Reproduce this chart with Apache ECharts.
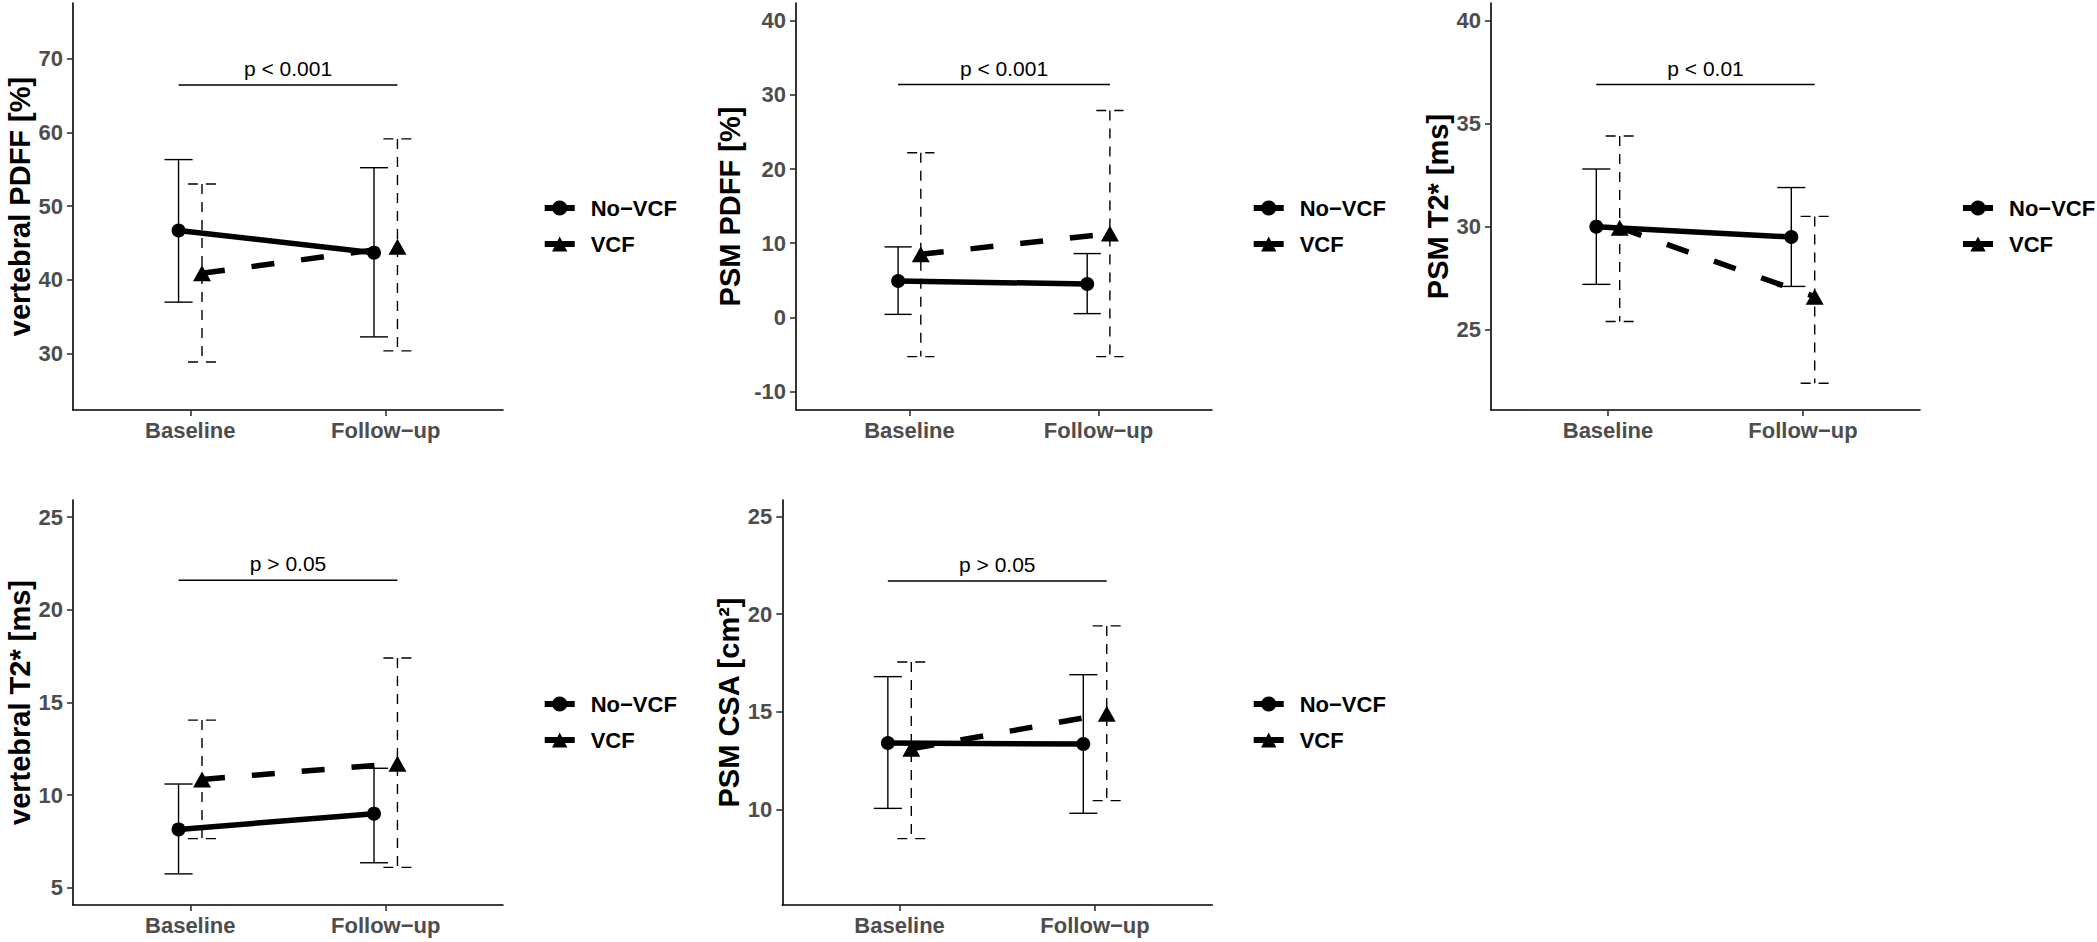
<!DOCTYPE html>
<html>
<head>
<meta charset="utf-8">
<script src="https://cdn.jsdelivr.net/npm/echarts@6/dist/echarts.min.js"></script>
<style>
html,body{margin:0;padding:0;background:#fff;}
#chart{width:2097px;height:942px;}
</style>
</head>
<body>
<div id="chart"></div>
<script>
// ---------------- data ----------------
const categories = ['Baseline', 'Follow\u2212up'];
const groupNames = ['No\u2212VCF', 'VCF'];
const yTitles = ['vertebral PDFF [%]', 'PSM PDFF [%]', 'PSM T2* [ms]', 'vertebral T2* [ms]', 'PSM CSA [cm\u00b2]'];
const pLabels = ['p < 0.001', 'p < 0.001', 'p < 0.01', 'p > 0.05', 'p > 0.05'];
const pLevels = [66.4, 31.4, 36.9, 21.6, 21.7];
const yTicks = [
  [30, 40, 50, 60, 70],
  [-10, 0, 10, 20, 30, 40],
  [25, 30, 35, 40],
  [5, 10, 15, 20, 25],
  [10, 15, 20, 25]
];
// per panel: [Baseline, Follow-up]
const noVcfMean = [[46.7, 43.7], [4.9, 4.5], [30.0, 29.5], [8.15, 9.0], [13.4, 13.35]];
const noVcfLow  = [[37.0, 32.3], [0.4, 0.5], [27.2, 27.1], [5.75, 6.35], [10.05, 9.8]];
const noVcfHigh = [[56.3, 55.2], [9.5, 8.6], [32.8, 31.9], [10.6, 11.45], [16.8, 16.9]];
const vcfMean   = [[40.9, 44.5], [8.5, 11.3], [29.95, 26.6], [10.85, 11.7], [13.1, 14.9]];
const vcfLow    = [[28.9, 30.4], [-5.3, -5.3], [25.4, 22.4], [7.65, 6.1], [8.5, 10.45]];
const vcfHigh   = [[53.0, 59.1], [22.2, 27.9], [34.4, 30.5], [14.05, 17.4], [17.55, 19.4]];

// ---------------- layout ----------------
const layout = [
  {left: 73,    top: 3,   width: 430, height: 407, nameGap: 37, min: 22.4,  max: 77.5,  legendLeft: 541.7,  legendTop: 197},
  {left: 796,   top: 3,   width: 416, height: 407, nameGap: 52, min: -12.5, max: 42.4,  legendLeft: 1250.7, legendTop: 197},
  {left: 1491,  top: 3,   width: 429, height: 407, nameGap: 39, min: 21.1,  max: 40.86, legendLeft: 1960,   legendTop: 197},
  {left: 73,    top: 500, width: 430, height: 405, nameGap: 37, min: 4.07,  max: 25.93, legendLeft: 541.7,  legendTop: 693},
  {left: 782.3, top: 500, width: 430, height: 405, nameGap: 39, min: 5.1,   max: 25.85, legendLeft: 1250.7, legendTop: 693}
];
const FONT = '"Liberation Sans", Arial, sans-serif';
const dodge = 0.06;
const capHalf = 0.072;

function errRender(dashed) {
  return function (params, api) {
    const x = api.value(0), lo = api.value(1), hi = api.value(2);
    const pT = api.coord([x, hi]);
    const pB = api.coord([x, lo]);
    const w = api.size([capHalf, 0])[0];
    const mk = () => {
      const s = {stroke: '#000', lineWidth: 1.4, fill: null};
      if (dashed) s.lineDash = [10, 8];
      return s;
    };
    return {
      type: 'group',
      children: [
        {type: 'line', shape: {x1: pT[0] - w, y1: pT[1], x2: pT[0] + w, y2: pT[1]}, style: mk()},
        {type: 'line', shape: {x1: pT[0], y1: pT[1], x2: pB[0], y2: pB[1]}, style: mk()},
        {type: 'line', shape: {x1: pB[0] - w, y1: pB[1], x2: pB[0] + w, y2: pB[1]}, style: mk()}
      ]
    };
  };
}
function bracketRender(idx) {
  return function (params, api) {
    const a = api.coord([api.value(0), api.value(2)]);
    const b = api.coord([api.value(1), api.value(2)]);
    return {
      type: 'group',
      children: [
        {type: 'line', shape: {x1: a[0], y1: a[1], x2: b[0], y2: b[1]}, style: {stroke: '#000', lineWidth: 1.4}},
        {type: 'text', x: (a[0] + b[0]) / 2, y: a[1] - 6,
         style: {text: pLabels[idx], fill: '#000', fontSize: 21, fontFamily: FONT, align: 'center', verticalAlign: 'bottom'}}
      ]
    };
  };
}

const grid = [], xAxis = [], yAxis = [], series = [], legend = [];
layout.forEach((L, i) => {
  grid.push({left: L.left, top: L.top, width: L.width, height: L.height, outerBoundsMode: 'none', containLabel: false});
  xAxis.push({
    gridIndex: i, type: 'value', min: 0.4, max: 2.6,
    splitLine: {show: false},
    axisLine: {show: true, onZero: false, lineStyle: {color: '#000', width: 1.6}},
    axisTick: {show: true, customValues: [1, 2], length: 6, lineStyle: {color: '#333', width: 1.6}},
    axisLabel: {customValues: [1, 2], formatter: v => categories[Math.round(v) - 1], margin: 9,
      fontFamily: FONT, fontSize: 22, fontWeight: 'bold', color: '#4d4d4d'}
  });
  yAxis.push({
    gridIndex: i, type: 'value', min: L.min, max: L.max,
    name: yTitles[i], nameLocation: 'middle', nameGap: L.nameGap,
    nameTextStyle: {fontFamily: FONT, fontSize: 29, fontWeight: 'bold', color: '#000'},
    splitLine: {show: false},
    axisLine: {show: true, onZero: false, lineStyle: {color: '#000', width: 1.6}},
    axisTick: {show: true, customValues: yTicks[i], length: 6, lineStyle: {color: '#333', width: 1.6}},
    axisLabel: {customValues: yTicks[i], margin: 10, fontFamily: FONT, fontSize: 22, fontWeight: 'bold', color: '#4d4d4d'}
  });
  legend.push({
    orient: 'vertical', left: L.legendLeft, top: L.legendTop, padding: 0, itemGap: 14,
    itemWidth: 30, itemHeight: 19, selectedMode: false, data: groupNames,
    textStyle: {fontFamily: FONT, fontSize: 22, fontWeight: 'bold', color: '#000', padding: [0, 0, 0, 11]},
    lineStyle: {type: 'solid', width: 6, color: '#000'},
    itemStyle: {color: '#000'}
  });
  series.push({
    name: 'errNo' + i, type: 'custom', xAxisIndex: i, yAxisIndex: i, silent: true,
    renderItem: errRender(false), encode: {x: 0, y: [1, 2]},
    data: [[1 - dodge, noVcfLow[i][0], noVcfHigh[i][0]], [2 - dodge, noVcfLow[i][1], noVcfHigh[i][1]]]
  });
  series.push({
    name: 'errVcf' + i, type: 'custom', xAxisIndex: i, yAxisIndex: i, silent: true,
    renderItem: errRender(true), encode: {x: 0, y: [1, 2]},
    data: [[1 + dodge, vcfLow[i][0], vcfHigh[i][0]], [2 + dodge, vcfLow[i][1], vcfHigh[i][1]]]
  });
  series.push({
    name: groupNames[0], type: 'line', xAxisIndex: i, yAxisIndex: i, silent: true,
    symbol: 'circle', symbolSize: 14, showSymbol: true,
    lineStyle: {color: '#000', width: 5.5, type: 'solid'},
    itemStyle: {color: '#000'},
    data: [[1 - dodge, noVcfMean[i][0]], [2 - dodge, noVcfMean[i][1]]]
  });
  series.push({
    name: groupNames[1], type: 'line', xAxisIndex: i, yAxisIndex: i, silent: true,
    symbol: 'triangle', symbolSize: [18, 16], showSymbol: true,
    lineStyle: {color: '#000', width: 5.5, type: [23, 27]},
    itemStyle: {color: '#000'},
    data: [[1 + dodge, vcfMean[i][0]], [2 + dodge, vcfMean[i][1]]]
  });
  series.push({
    name: 'p' + i, type: 'custom', xAxisIndex: i, yAxisIndex: i, silent: true,
    renderItem: bracketRender(i), encode: {x: [0, 1], y: 2},
    data: [[1 - dodge, 2 + dodge, pLevels[i]]]
  });
});

const chart = echarts.init(document.getElementById('chart'), null, {renderer: 'svg'});
chart.setOption({
  animation: false,
  backgroundColor: '#fff',
  grid, xAxis, yAxis, legend, series
});
</script>
</body>
</html>
